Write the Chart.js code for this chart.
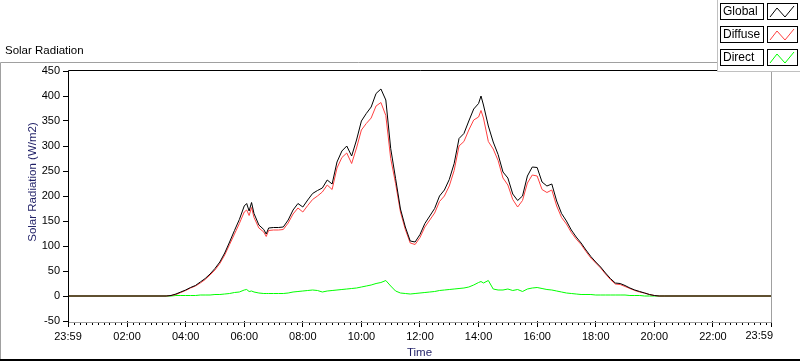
<!DOCTYPE html>
<html>
<head>
<meta charset="utf-8">
<script src="https://cdn.jsdelivr.net/npm/chart.js@4.4.0/dist/chart.umd.min.js"></script>
<style>
  html, body { margin: 0; padding: 0; background: #ffffff; }
  #wrap { width: 800px; height: 361px; }
</style>
</head>
<body>
<div id="wrap"><canvas id="solarChart" width="800" height="361"></canvas></div>
<script>
// time of each sample (first 23:59 is the previous day)
const times = ['23:59',
  '03:20','03:30','03:40','03:50','04:00','04:10','04:20','04:30','04:40','04:50',
  '05:00','05:10','05:20','05:30','05:40','05:50','06:00','06:05','06:10','06:15',
  '06:20','06:30','06:40','06:45','06:50','07:00','07:10','07:20','07:30','07:40',
  '07:50','08:00','08:10','08:20','08:30','08:40','08:50','09:00','09:10','09:20',
  '09:30','09:40','09:50','10:00','10:10','10:20','10:30','10:40','10:50','11:00',
  '11:10','11:20','11:30','11:40','11:50','12:00','12:10','12:20','12:30','12:40',
  '12:50','13:00','13:10','13:20','13:30','13:40','13:50','14:00','14:05','14:10',
  '14:20','14:30','14:40','14:50','15:00','15:10','15:20','15:30','15:40','15:50',
  '16:00','16:10','16:20','16:30','16:40','16:50','17:00','17:10','17:20','17:30',
  '17:40','17:50','18:00','18:10','18:20','18:30','18:40','18:50','19:00','19:10',
  '19:20','19:30','19:40','19:50','20:00','20:10','20:20',
  '23:59'];

const globalRad = [0,
  0, 1, 4, 8, 12, 17, 21, 28, 35, 44,
  55, 68, 86, 108, 131, 153, 180, 185, 170, 187,
  165, 142, 133, 124, 136, 137, 137, 138, 152, 172,
  185, 178, 192, 205, 211, 216, 232, 224, 268, 290,
  300, 280, 312, 350, 365, 378, 405, 414, 392, 295,
  235, 174, 138, 110, 108, 123, 145, 160, 175, 200,
  212, 233, 265, 315, 325, 350, 374, 385, 400, 382,
  340, 308, 283, 248, 236, 204, 191, 200, 240, 258,
  257, 228, 220, 224, 190, 165, 150, 132, 118, 106,
  92, 79, 68, 58, 46, 35, 26, 25, 21, 16,
  12, 9, 6, 3, 1, 0, 0,
  0];

const diffuseRad = [0,
  0, 1, 3, 7, 11, 16, 20, 26, 33, 42,
  52, 65, 82, 103, 124, 145, 168, 172, 161, 177,
  157, 136, 128, 119, 131, 132, 132, 133, 146, 164,
  176, 168, 181, 193, 200, 208, 222, 213, 256, 277,
  286, 265, 296, 332, 345, 356, 380, 387, 361, 275,
  225, 168, 133, 106, 103, 117, 138, 152, 166, 189,
  200, 220, 251, 300, 309, 332, 352, 358, 371, 356,
  309, 294, 271, 236, 222, 193, 178, 191, 226, 242,
  240, 213, 207, 212, 180, 157, 144, 127, 114, 103,
  89, 76, 66, 56, 44, 33, 24, 23, 19, 15,
  11, 8, 6, 3, 1, 0, 0,
  0];

const directRad = [0,
  0, 0, 1, 1, 1, 1, 1, 2, 2, 2,
  3, 3, 4, 5, 7, 8, 12, 13, 9, 10,
  8, 6, 5, 5, 5, 5, 5, 5, 6, 8,
  9, 10, 11, 12, 11, 8, 10, 11, 12, 13,
  14, 15, 16, 18, 20, 22, 25, 27, 31, 20,
  10, 6, 5, 4, 5, 6, 7, 8, 9, 11,
  12, 13, 14, 15, 16, 18, 22, 27, 29, 26,
  31, 14, 12, 12, 14, 11, 13, 9, 14, 16,
  17, 15, 13, 12, 10, 8, 6, 5, 4, 3,
  3, 3, 2, 2, 2, 2, 2, 2, 2, 1,
  1, 1, 0, 0, 0, 0, 0,
  0];

const seriesNames = ['Global', 'Diffuse', 'Direct'];
const seriesColors = ['#000000', '#ff4040', '#00ff00'];

const xTickLabels = ['23:59', '02:00', '04:00', '06:00', '08:00', '10:00', '12:00',
  '14:00', '16:00', '18:00', '20:00', '22:00', '23:59'];

// 'HH:MM' -> hours, the first sample is one minute before midnight
function toHours(s, i) {
  const p = s.split(':');
  const h = Number(p[0]) + Number(p[1]) / 60;
  return i === 0 ? h - 24 : h;
}
const xTickValues = xTickLabels.map(toHours);

function points(values) {
  return values.map((v, i) => ({ x: toHours(times[i], i), y: v }));
}

const tickFont = { family: 'Liberation Sans', size: 11 };
const nameFont = { family: 'Liberation Sans', size: 11.5 };

// LabVIEW-like panel: frame, minor ticks, legend and captions
const panelPlugin = {
    id: 'panel',
    afterDraw(chart) {
        const { ctx, chartArea: a } = chart;
        const x = chart.scales.x;
        ctx.save();

        // minor ticks every 12 min
        ctx.strokeStyle = '#000';
        ctx.lineWidth = 1;
        ctx.beginPath();
        for (let k = 1; k < 120; k++) {
            if (k % 10 === 0) continue;
            const px = Math.round(x.getPixelForValue(k * 0.2)) + 0.5;
            ctx.moveTo(px, a.bottom + 1);
            ctx.lineTo(px, a.bottom + 4);
        }
        ctx.stroke();

        // plot frame
        ctx.strokeStyle = '#000';
        ctx.beginPath();
        ctx.moveTo(68.5, 323);
        ctx.lineTo(68.5, 70.5);
        ctx.lineTo(772, 70.5);
        ctx.stroke();
        ctx.strokeStyle = '#a0a0a0';
        ctx.beginPath();
        ctx.moveTo(69, 322.5);
        ctx.lineTo(771.5, 322.5);
        ctx.lineTo(771.5, 71);
        ctx.stroke();

        // outer panel
        ctx.strokeStyle = '#a0a0a0';
        ctx.beginPath();
        ctx.moveTo(0.5, 359);
        ctx.lineTo(0.5, 62.5);
        ctx.lineTo(717, 62.5);
        ctx.stroke();
        ctx.fillStyle = '#000';
        ctx.fillRect(0, 359, 800, 2);

        // last x label sits inside the axis end
        ctx.fillStyle = '#000';
        ctx.font = '11px "Liberation Sans"';
        ctx.textAlign = 'right';
        ctx.textBaseline = 'middle';
        ctx.fillText(xTickLabels[xTickLabels.length - 1], a.right + 2, 336);

        // captions
        ctx.textAlign = 'left';
        ctx.font = '11.5px "Liberation Sans"';
        ctx.fillText('Solar Radiation', 5, 51);
        ctx.fillStyle = '#1f1f66';
        ctx.translate(33, 182);
        ctx.rotate(-Math.PI / 2);
        ctx.textAlign = 'center';
        ctx.fillText('Solar Radiation (W/m2)', 0, 0);
        ctx.setTransform(1, 0, 0, 1, 0, 0);

        // legend
        ctx.fillStyle = '#fff';
        ctx.fillRect(717, 0, 83, 72);
        ctx.strokeStyle = '#c0c0c0';
        ctx.beginPath();
        ctx.moveTo(717.5, 0);
        ctx.lineTo(717.5, 71.5);
        ctx.lineTo(800, 71.5);
        ctx.stroke();
        ctx.font = '12px "Liberation Sans"';
        ctx.textAlign = 'left';
        chart.data.datasets.forEach((ds, i) => {
            const y0 = 3 + i * 23;
            ctx.strokeStyle = '#000';
            ctx.strokeRect(720.5, y0 + 0.5, 43, 16);
            ctx.strokeRect(767.5, y0 + 0.5, 30, 16);
            ctx.fillStyle = '#000';
            ctx.fillText(ds.label, 723, y0 + 9);
            ctx.strokeStyle = ds.borderColor;
            ctx.beginPath();
            ctx.moveTo(770, y0 + 14);
            ctx.lineTo(777, y0 + 5);
            ctx.lineTo(785, y0 + 14);
            ctx.lineTo(794, y0 + 3);
            ctx.stroke();
        });
        ctx.restore();
    }
};

function renderSolarChart() {
    const ctx = document.getElementById('solarChart').getContext('2d');
    new Chart(ctx, {
        type: 'line',
        data: {
            datasets: [
                { label: seriesNames[0], data: points(globalRad), borderColor: seriesColors[0] },
                { label: seriesNames[1], data: points(diffuseRad), borderColor: seriesColors[1] },
                { label: seriesNames[2], data: points(directRad), borderColor: seriesColors[2] }
            ]
        },
        options: {
            responsive: false,
            animation: false,
            layout: { padding: { left: 0, top: 71, right: 29, bottom: 0 } },
            elements: {
                point: { radius: 0 },
                line: { borderWidth: 1, tension: 0, fill: false }
            },
            plugins: {
                legend: { display: false },
                tooltip: { enabled: false }
            },
            scales: {
                x: {
                    type: 'linear',
                    min: xTickValues[0],
                    max: xTickValues[xTickValues.length - 1],
                    afterBuildTicks: (s) => { s.ticks = xTickValues.map(v => ({ value: v })); },
                    afterFit: (s) => { s.height = 40; },
                    border: { display: false },
                    grid: { drawOnChartArea: false, drawTicks: true, tickLength: 6, color: '#000' },
                    ticks: {
                        autoSkip: false,
                        maxRotation: 0,
                        padding: 3,
                        color: '#000',
                        font: tickFont,
                        callback: (v, i) => (i === xTickLabels.length - 1 ? '' : xTickLabels[i])
                    },
                    title: {
                        display: true,
                        text: 'Time',
                        color: '#1f1f66',
                        font: nameFont,
                        padding: { top: 0, bottom: 1 }
                    }
                },
                y: {
                    min: -50,
                    max: 450,
                    afterFit: (s) => { s.width = 68; },
                    border: { display: false },
                    grid: { drawOnChartArea: false, drawTicks: true, tickLength: 5, color: '#000' },
                    ticks: { stepSize: 50, padding: 3, color: '#000', font: tickFont }
                }
            }
        },
        plugins: [panelPlugin]
    });
}

renderSolarChart();
</script>
</body>
</html>
